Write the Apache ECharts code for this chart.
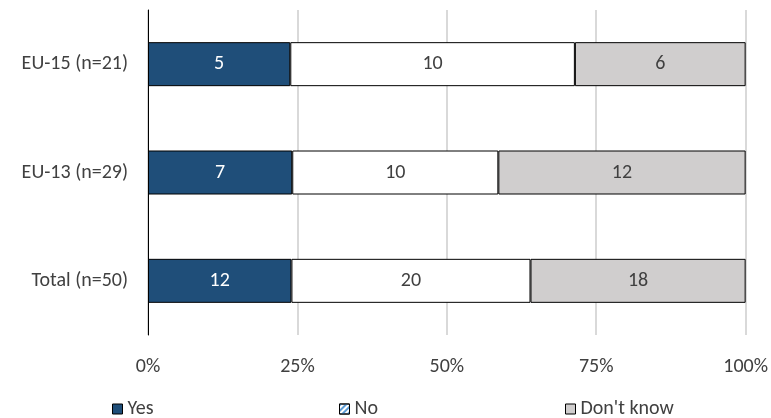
<!DOCTYPE html>
<html>
<head>
<meta charset="utf-8">
<script src="https://cdn.jsdelivr.net/npm/echarts@6/dist/echarts.min.js"></script>
<style>
  html, body { margin: 0; padding: 0; background: #fff; }
  #chart { width: 771px; height: 418px; }
</style>
</head>
<body>
<div id="chart"></div>
<script>
// Survey responses per group (counts)
const categories = ['Total (n=50)', 'EU-13 (n=29)', 'EU-15 (n=21)'];
const groupSizes = [50, 29, 21];
const yesCounts = [12, 7, 5];
const noCounts = [20, 10, 10];
const dontKnowCounts = [18, 12, 6];
const tickLabels = ['0%', '25%', '50%', '75%', '100%'];

const font = 'Calibri, Carlito, "Liberation Sans", "Open Sans", sans-serif';
const textColor = '#404040';
const fs = 20;

// Bars are drawn as share of each group; labels show raw counts
function shares(counts) {
  return counts.map((c, i) => ({ value: c / groupSizes[i] * 100, count: c }));
}

function makeSeries(name, counts, color, labelColor) {
  return {
    name: name,
    type: 'bar',
    stack: 'all',
    barWidth: 44,
    data: shares(counts),
    itemStyle: { color: color, borderColor: '#000', borderWidth: 1 },
    label: {
      show: true,
      position: 'inside',
      formatter: p => p.data.count,
      color: labelColor,
      fontSize: fs,
      fontFamily: font
    },
    emphasis: { disabled: true }
  };
}

const chart = echarts.init(document.getElementById('chart'), null, { renderer: 'canvas' });

function legendAt(left, name, itemStyle) {
  return {
    left: left,
    top: 399,
    padding: 0,
    itemWidth: 10,
    itemHeight: 10,
    itemGap: 4,
    icon: 'rect',
    data: [{ name: name, itemStyle: itemStyle }],
    textStyle: { color: textColor, fontSize: fs, fontFamily: font, padding: [0, 0, 0, 0] },
    selectedMode: false
  };
}

chart.setOption({
  animation: false,
  grid: { left: 148, right: 25, top: 10, bottom: 83, containLabel: false },
  xAxis: {
    type: 'value',
    min: 0,
    max: 100,
    interval: 25,
    axisLine: { show: false },
    axisTick: { show: false },
    splitLine: { show: true, lineStyle: { color: '#d9d9d9', width: 2 } },
    axisLabel: {
      color: textColor,
      fontSize: fs,
      fontFamily: font,
      margin: 22,
      formatter: v => tickLabels[Math.round(v / 25)]
    }
  },
  yAxis: {
    type: 'category',
    data: categories,
    axisLine: { show: true, lineStyle: { color: '#000', width: 1 } },
    axisTick: { show: false },
    axisLabel: { color: textColor, fontSize: fs, fontFamily: font, margin: 20 }
  },
  legend: [
    legendAt(112, 'Yes', { color: '#1f4e79', borderColor: '#000', borderWidth: 1 }),
    legendAt(339, 'No', {
      color: '#ffffff', borderColor: '#000', borderWidth: 1,
      decal: { symbol: 'rect', color: '#5b9bd5', dashArrayX: [1, 0], dashArrayY: [2, 2], rotation: -Math.PI / 4 }
    }),
    legendAt(565, "Don't know", { color: '#d0cece', borderColor: '#000', borderWidth: 1 })
  ],
  series: [
    makeSeries('Yes', yesCounts, '#1f4e79', '#ffffff'),
    makeSeries('No', noCounts, '#ffffff', textColor),
    makeSeries("Don't know", dontKnowCounts, '#d0cece', textColor)
  ]
});
</script>
</body>
</html>
